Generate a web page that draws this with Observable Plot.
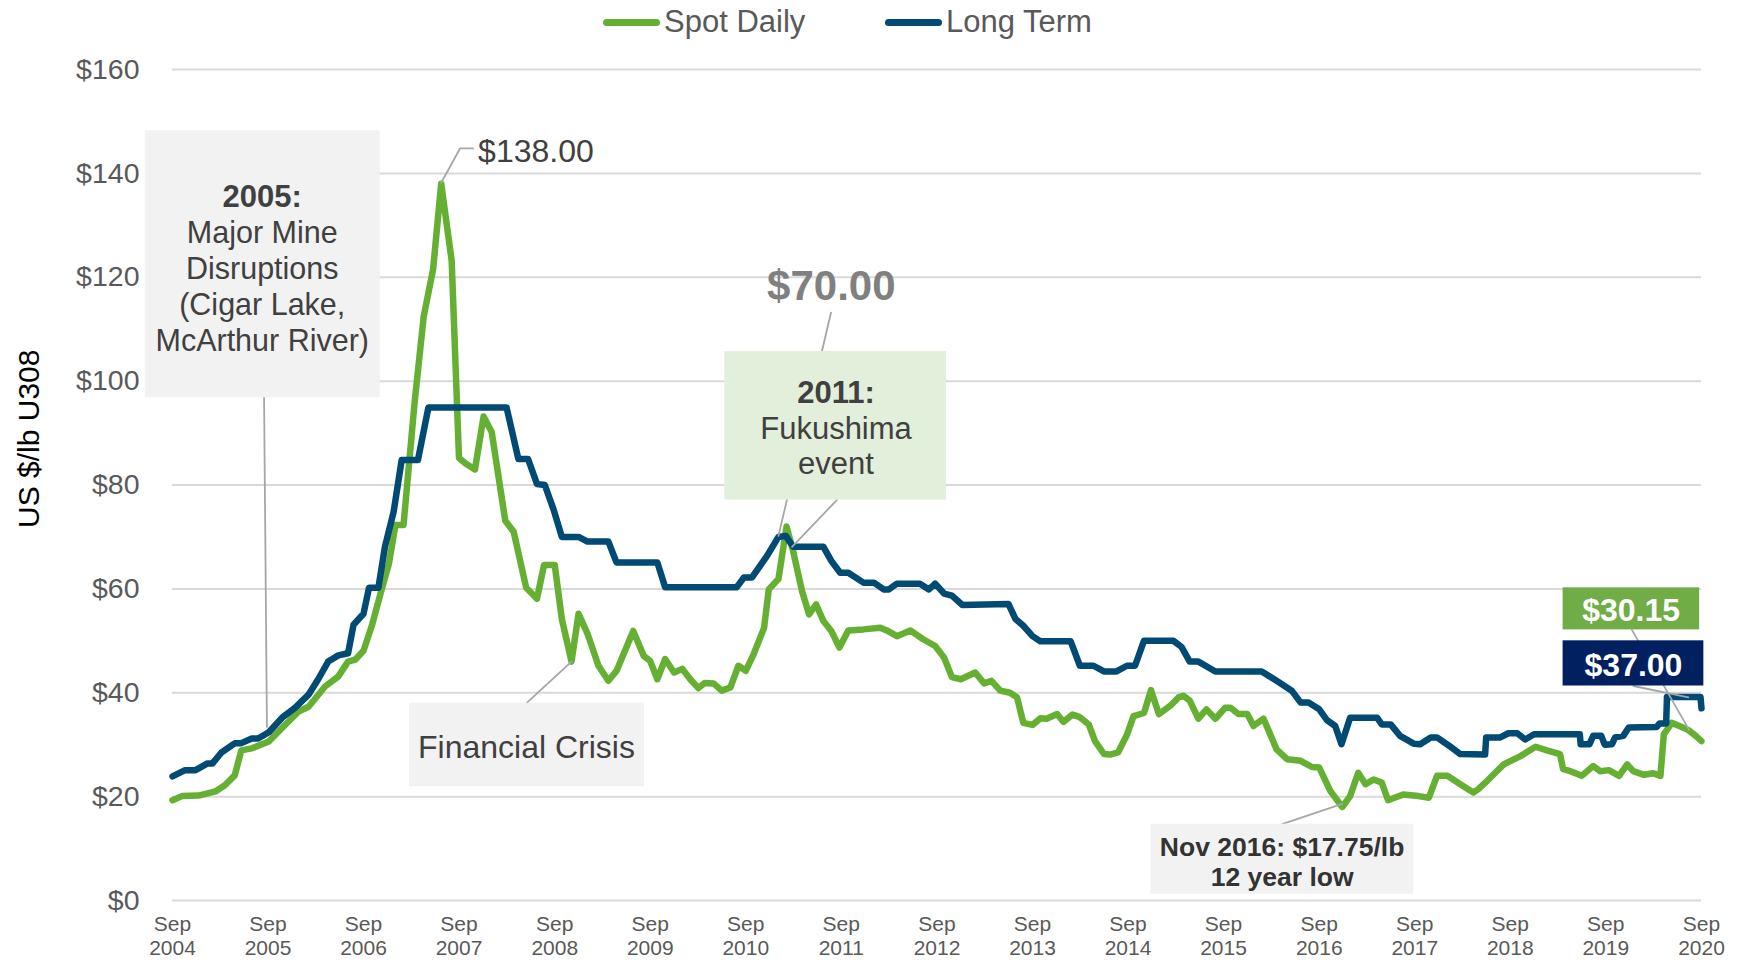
<!DOCTYPE html>
<html><head><meta charset="utf-8">
<script src="https://cdn.jsdelivr.net/npm/d3@7"></script>
<script src="https://cdn.jsdelivr.net/npm/@observablehq/plot@0.6"></script>
<style>
body{margin:0;background:#fff;font-family:"Liberation Sans",Arial,sans-serif;overflow:hidden;}
#legend{position:relative;height:45px;width:1739px;}
.sw{position:absolute;top:19px;width:57px;height:7px;border-radius:4px;}
.lt{position:absolute;top:0;line-height:44px;font-size:31px;color:#595959;}
</style></head><body>
<div id="legend">
 <div class="sw" style="left:603px;background:#65b032"></div><span class="lt" style="left:664px">Spot Daily</span>
 <div class="sw" style="left:885px;background:#004a74"></div><span class="lt" style="left:946px">Long Term</span>
</div>
<div id="chart"></div>
<script>
// ---------- DATA ----------
const spotDaily = [
["2004-09-01",19.3],["2004-10-07",20.1],["2004-12-10",20.2],["2005-02-12",21.0],["2005-03-20",22.2],["2005-04-27",24.1],["2005-05-22",28.9],["2005-07-01",29.3],["2005-09-04",30.6],["2005-11-07",33.9],["2005-12-27",36.4],["2006-02-03",37.3],["2006-04-07",41.2],["2006-05-27",43.1],["2006-07-04",46.0],["2006-08-01",46.4],["2006-09-01",48.1],["2006-10-04",53.1],["2006-11-04",58.9],["2006-12-07",64.8],["2007-01-01",72.3],["2007-02-01",72.3],["2007-02-22",84.0],["2007-03-15",95.7],["2007-04-19",112.4],["2007-05-25",121.5],["2007-06-25",138.0],["2007-08-04",123.2],["2007-09-01",85.2],["2007-09-25",84.2],["2007-11-01",83.0],["2007-12-04",93.2],["2008-01-04",90.2],["2008-02-25",73.1],["2008-03-28",71.0],["2008-05-15",60.2],["2008-06-25",58.1],["2008-07-22",64.6],["2008-09-01",64.6],["2008-09-28",54.2],["2008-11-04",46.0],["2008-12-01",55.2],["2009-01-04",51.4],["2009-02-15",45.2],["2009-03-25",42.3],["2009-04-25",44.2],["2009-06-28",51.9],["2009-08-07",47.1],["2009-09-01",46.1],["2009-09-28",42.6],["2009-10-28",46.5],["2009-12-01",43.9],["2010-01-01",44.6],["2010-02-01",42.6],["2010-03-04",40.9],["2010-03-28",41.9],["2010-05-01",41.8],["2010-06-01",40.4],["2010-07-04",41.0],["2010-08-04",45.2],["2010-09-01",44.2],["2010-10-01",47.4],["2010-11-10",52.5],["2010-11-28",59.9],["2011-01-04",61.9],["2011-02-04",72.0],["2011-03-01",67.3],["2011-04-04",59.6],["2011-05-01",55.1],["2011-05-28",57.0],["2011-06-25",53.8],["2011-07-25",51.9],["2011-08-25",48.7],["2011-09-28",52.0],["2011-11-25",52.2],["2012-01-28",52.5],["2012-02-22",52.0],["2012-04-01",50.9],["2012-05-22",52.0],["2012-07-10",50.3],["2012-08-25",49.0],["2012-09-28",46.8],["2012-10-28",43.0],["2012-12-01",42.6],["2013-01-25",43.9],["2013-02-28",41.8],["2013-03-28",42.3],["2013-05-01",40.4],["2013-06-07",40.0],["2013-07-04",39.1],["2013-07-28",34.2],["2013-09-01",33.8],["2013-10-01",35.1],["2013-10-25",35.0],["2013-12-04",35.9],["2013-12-28",34.4],["2014-02-01",35.8],["2014-03-01",35.3],["2014-04-04",33.9],["2014-04-28",30.7],["2014-06-01",28.2],["2014-06-25",28.1],["2014-07-25",28.5],["2014-08-28",31.9],["2014-09-22",35.5],["2014-11-01",36.1],["2014-11-28",40.5],["2014-12-28",35.9],["2015-02-10",37.5],["2015-03-13",39.1],["2015-04-01",39.4],["2015-04-25",38.5],["2015-05-28",35.0],["2015-06-28",36.8],["2015-08-01",35.0],["2015-09-07",37.1],["2015-09-28",37.1],["2015-10-28",35.9],["2015-12-01",35.9],["2015-12-25",33.6],["2016-02-01",35.0],["2016-03-22",29.1],["2016-05-01",27.2],["2016-06-22",26.9],["2016-08-04",25.7],["2016-09-01",25.6],["2016-10-13",21.1],["2016-11-28",18.0],["2016-12-28",20.1],["2017-01-28",24.6],["2017-02-25",22.4],["2017-03-28",23.3],["2017-04-28",22.7],["2017-05-22",19.3],["2017-07-19",20.4],["2017-09-15",20.1],["2017-10-25",19.8],["2017-11-25",24.0],["2018-01-04",24.0],["2018-02-22",22.4],["2018-04-13",20.8],["2018-05-01",21.4],["2018-06-04",23.0],["2018-08-07",26.2],["2018-10-10",27.8],["2018-12-07",29.6],["2019-01-19",28.9],["2019-03-10",28.2],["2019-03-22",25.3],["2019-04-19",24.9],["2019-06-01",24.0],["2019-07-15",25.9],["2019-08-10",24.9],["2019-09-13",25.1],["2019-10-22",24.0],["2019-11-22",26.2],["2019-12-15",24.9],["2020-01-25",24.2],["2020-03-01",24.5],["2020-03-28",24.0],["2020-04-10",32.0],["2020-05-10",34.2],["2020-06-13",33.5],["2020-07-13",32.8],["2020-08-10",31.7],["2020-09-01",30.7]
];
const longTerm = [
["2004-09-01",23.9],["2004-10-19",25.1],["2004-11-28",25.1],["2005-01-13",26.4],["2005-02-01",26.4],["2005-03-07",28.5],["2005-04-28",30.3],["2005-05-22",30.3],["2005-07-01",31.2],["2005-07-25",31.2],["2005-09-04",32.4],["2005-10-25",35.2],["2005-12-13",37.1],["2006-02-04",39.7],["2006-03-13",42.7],["2006-04-19",46.0],["2006-05-28",47.2],["2006-07-04",47.6],["2006-07-25",53.1],["2006-09-01",55.2],["2006-09-22",60.2],["2006-10-28",60.2],["2006-11-22",68.1],["2006-12-25",74.8],["2007-01-25",84.8],["2007-03-28",84.8],["2007-05-07",94.9],["2008-03-01",94.9],["2008-04-15",85.0],["2008-05-22",85.0],["2008-06-25",80.2],["2008-07-25",80.0],["2008-08-28",75.2],["2008-09-28",70.0],["2008-12-01",70.0],["2009-01-04",69.1],["2009-03-25",69.1],["2009-04-25",65.1],["2009-09-28",65.1],["2009-10-28",60.3],["2010-07-28",60.3],["2010-08-25",62.2],["2010-09-25",62.2],["2010-11-22",66.4],["2011-01-04",70.0],["2011-02-01",70.2],["2011-03-01",68.1],["2011-06-25",68.1],["2011-07-25",65.4],["2011-08-28",63.1],["2011-09-28",63.1],["2011-11-25",61.2],["2012-01-04",61.2],["2012-02-10",59.9],["2012-03-01",59.9],["2012-04-01",61.0],["2012-06-28",61.0],["2012-08-01",59.9],["2012-08-25",61.0],["2012-09-28",59.1],["2012-10-28",58.7],["2012-12-07",56.9],["2013-06-01",57.1],["2013-06-28",54.2],["2013-07-28",52.9],["2013-09-01",50.9],["2013-10-01",49.9],["2014-01-25",49.9],["2014-03-01",45.2],["2014-04-22",45.2],["2014-06-01",44.1],["2014-07-19",44.1],["2014-08-28",45.2],["2014-09-28",45.2],["2014-11-01",50.0],["2015-02-22",50.0],["2015-03-25",48.8],["2015-04-25",46.0],["2015-05-28",46.0],["2015-08-01",44.1],["2016-01-25",44.1],["2016-03-22",42.3],["2016-05-19",40.4],["2016-06-22",38.1],["2016-07-22",38.1],["2016-09-01",36.8],["2016-10-01",34.7],["2016-11-01",33.6],["2016-11-25",30.1],["2016-12-28",35.2],["2017-04-10",35.2],["2017-04-28",33.9],["2017-06-01",33.9],["2017-07-07",31.7],["2017-08-28",30.2],["2017-09-22",30.1],["2017-11-01",31.4],["2017-11-25",31.4],["2018-01-10",29.8],["2018-02-22",28.2],["2018-05-28",28.1],["2018-06-01",31.4],["2018-07-25",31.4],["2018-08-25",32.2],["2018-09-28",32.2],["2018-10-28",31.0],["2018-12-01",32.0],["2019-05-25",32.0],["2019-05-28",30.1],["2019-07-01",30.1],["2019-07-15",31.7],["2019-08-15",31.7],["2019-08-28",30.0],["2019-09-25",30.1],["2019-10-07",31.4],["2019-11-07",31.7],["2019-11-28",33.3],["2020-03-13",33.4],["2020-03-25",34.1],["2020-04-19",34.1],["2020-04-22",39.2],["2020-08-28",39.2],["2020-09-01",37.0]
];
const yTickValues = [0,20,40,60,80,100,120,140,160];
const xTickYears = [2004,2005,2006,2007,2008,2009,2010,2011,2012,2013,2014,2015,2016,2017,2018,2019,2020];

// ---------- ANNOTATIONS (placed in data space) ----------
const boxes = [
 {x1:"2004-05-20", x2:"2006-11-04", y1:96.8, y2:148.2, fill:"#f2f2f2"},
 {x1:"2010-06-13", x2:"2012-10-07", y1:77.1, y2:105.7, fill:"#e2efda"},
 {x1:"2007-02-24", x2:"2009-08-10", y1:21.9, y2:38.0, fill:"#f2f2f2"},
 {x1:"2014-11-28", x2:"2017-08-28", y1:1.2, y2:14.7, fill:"#f2f2f2"}
];
const valueBoxes = [
 {x1:"2019-03-22", x2:"2020-08-25", y1:52.1, y2:60.2, fill:"#70ad47"},
 {x1:"2019-03-22", x2:"2020-09-10", y1:41.3, y2:50.0, fill:"#002060"}
];
const leaders = [
 {id:"a", pts:[["2005-08-17",96.8],["2005-08-28",33.4]]},
 {id:"b", pts:[["2007-10-25",144.8],["2007-09-05",144.8],["2007-06-25",138.2]]},
 {id:"c", pts:[["2011-07-24",113.2],["2011-01-04",70.2]]},
 {id:"d", pts:[["2011-08-15",77.1],["2011-02-25",68.1]]},
 {id:"e", pts:[["2008-05-16",38.0],["2008-11-04",46.0]]},
 {id:"f", pts:[["2016-04-12",14.7],["2016-11-28",18.6]]},
 {id:"g", pts:[["2019-12-10",52.1],["2020-07-16",32.8]]},
 {id:"h", pts:[["2019-12-16",41.3],["2020-07-13",39.1]]}
];
const labels = [
 {x:"2005-08-10", y:135.7, t:"2005:", size:31, weight:"bold", fill:"#404040", anchor:"middle", lh:1.17},
 {x:"2005-08-10", y:118.4, t:"Major Mine\nDisruptions\n(Cigar Lake,\nMcArthur River)", size:30.5, weight:"normal", fill:"#404040", anchor:"middle", lh:1.18},
 {x:"2007-11-13", y:144.6, t:"$138.00", size:32, weight:"normal", fill:"#404040", anchor:"start", lh:1.2},
 {x:"2011-07-25", y:118.7, t:"$70.00", size:42, weight:"bold", fill:"#808080", anchor:"middle", lh:1.2},
 {x:"2011-08-12", y:98.1, t:"2011:", size:31, weight:"bold", fill:"#404040", anchor:"middle", lh:1.2},
 {x:"2011-08-12", y:87.7, t:"Fukushima\nevent", size:31, weight:"normal", fill:"#404040", anchor:"middle", lh:1.13},
 {x:"2008-05-16", y:29.9, t:"Financial Crisis", size:32, weight:"normal", fill:"#404040", anchor:"middle", lh:1.2},
 {x:"2016-04-12", y:7.6, t:"Nov 2016: $17.75/lb\n12 year low", size:26.5, weight:"bold", fill:"#333333", anchor:"middle", lh:1.13},
 {x:"2019-12-07", y:56.1, t:"$30.15", size:32, weight:"bold", fill:"#ffffff", anchor:"middle", lh:1.2},
 {x:"2019-12-16", y:45.6, t:"$37.00", size:32, weight:"bold", fill:"#ffffff", anchor:"middle", lh:1.2}
];

// ---------- BUILD ----------
const parse = d3.utcParse("%Y-%m-%d");
const toRows = arr => arr.map(([d, v]) => ({date: parse(d), value: v}));
const spotRows = toRows(spotDaily);
const longRows = toRows(longTerm);
const xTicks = xTickYears.map(y => new Date(Date.UTC(y, 8, 1)));
const boxRows = boxes.map(b => ({...b, x1: parse(b.x1), x2: parse(b.x2)}));
const vboxRows = valueBoxes.map(b => ({...b, x1: parse(b.x1), x2: parse(b.x2)}));
const leaderRows = leaders.flatMap(l => l.pts.map(([d, v]) => ({id: l.id, date: parse(d), value: v})));
const labelRows = labels.map(l => ({...l, x: parse(l.x)}));

const textMarks = labelRows.map(l => Plot.text([l], {
  x: "x", y: "y", text: "t", fontSize: l.size, fontWeight: l.weight, fill: l.fill,
  textAnchor: l.anchor, lineHeight: l.lh
}));

const chart = Plot.plot({
  width: 1739, height: 915,
  marginTop: 24, marginBottom: 60, marginLeft: 172, marginRight: 38,
  style: {fontFamily: '"Liberation Sans", Arial, sans-serif', background: "#fff", overflow: "visible"},
  x: {type: "utc", domain: [parse("2004-09-01"), parse("2020-09-01")]},
  y: {domain: [0, 160]},
  marks: [
    Plot.gridY(yTickValues, {stroke: "#d9d9d9", strokeOpacity: 1, strokeWidth: 2}),
    Plot.axisY(yTickValues, {tickSize: 0, tickPadding: 33, tickFormat: d => "$" + d, fontSize: 28.5, fill: "#595959", label: null}),
    Plot.axisX(xTicks, {tickSize: 0, tickPadding: 14, tickFormat: d => "Sep\n" + d.getUTCFullYear(), fontSize: 21, fill: "#595959", lineHeight: 1.13, label: null, fontFamily: '"Liberation Sans Narrow", "Arial Narrow", "Liberation Sans", sans-serif'}),
    Plot.text(["US $/lb U308"], {x: () => parse("2004-09-01"), y: () => 88.9, text: d => d, rotate: -90, dx: -143, fontSize: 30, fill: "#000"}),
    Plot.line(spotRows, {x: "date", y: "value", stroke: "#65b032", strokeWidth: 6.5, strokeLinejoin: "round", strokeLinecap: "round"}),
    Plot.line(longRows, {x: "date", y: "value", stroke: "#004a74", strokeWidth: 6.5, strokeLinejoin: "round", strokeLinecap: "round"}),
    Plot.line(leaderRows, {x: "date", y: "value", z: "id", stroke: "#a6a6a6", strokeWidth: 1.8}),
    Plot.rect(boxRows, {x1: "x1", x2: "x2", y1: "y1", y2: "y2", fill: d => d.fill}),
    Plot.rect(vboxRows, {x1: "x1", x2: "x2", y1: "y1", y2: "y2", fill: d => d.fill}),
    ...textMarks
  ]
});
document.getElementById("chart").appendChild(chart);
</script>
</body></html>
